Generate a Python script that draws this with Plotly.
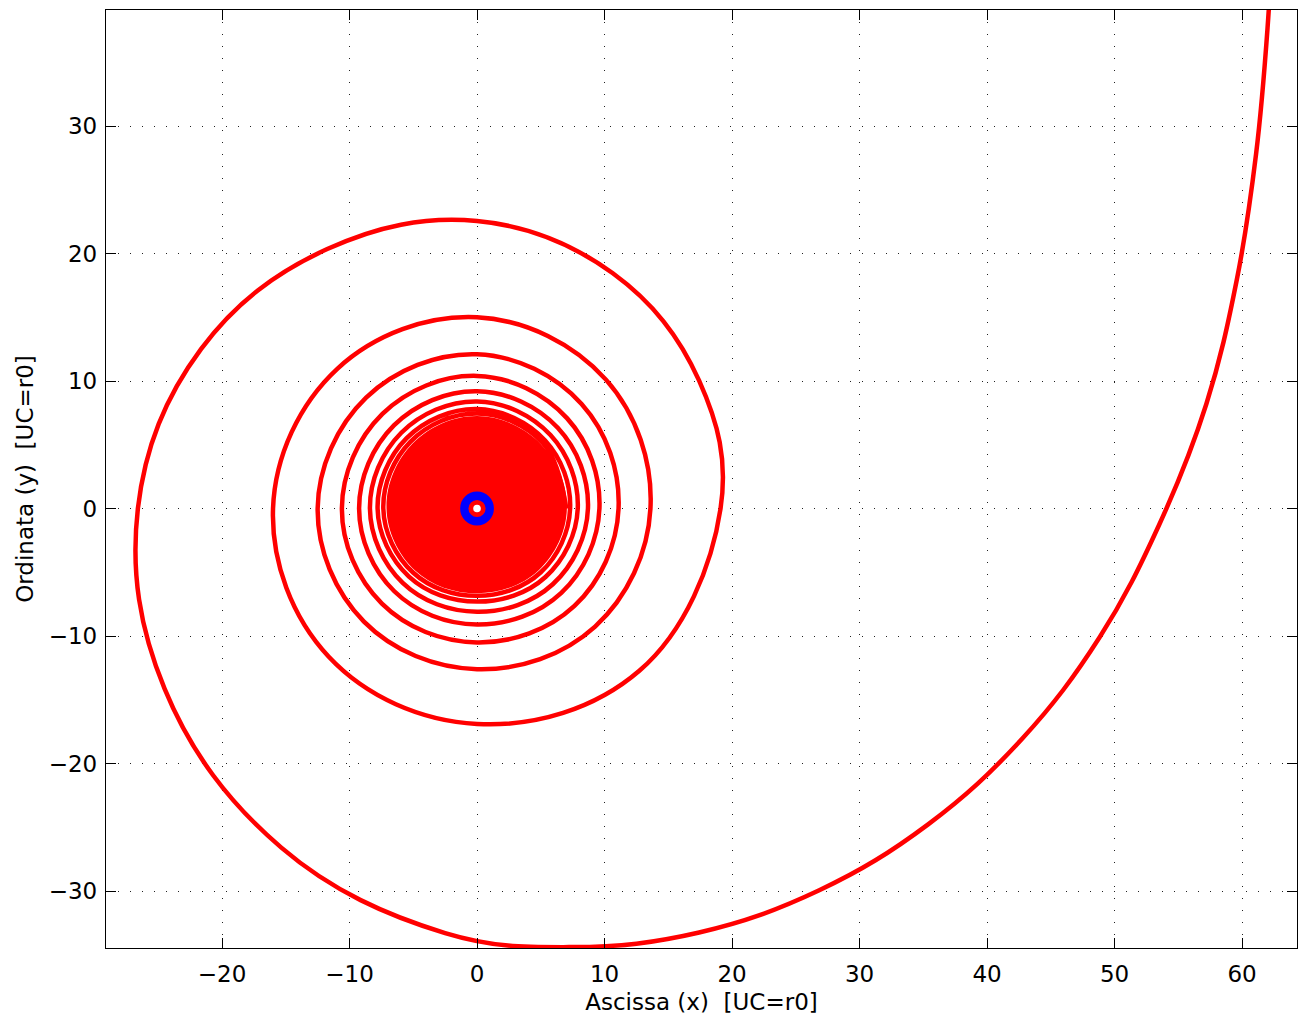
import plotly.graph_objects as go

# Spiral trajectory (counter-clockwise, from the inner core outwards)
traj_x = [7.0, 5.15, 0, -5.23, -7.35, -5.02, 0, 5.00, 7.3,
          5.34, 0, -5.52, -7.8, -5.34, 0, 5.37, 7.9,
          5.76, 0, -5.94, -8.4, -5.83, 0, 5.94, 8.7,
          6.33, 0, -6.52, -9.25, -6.49, 0, 6.61, 9.6,
          7.07, 0, -7.42, -10.6, -7.46, 0, 7.64, 11.1,
          8.20, 0, -8.70, -12.5, -8.87, 0, 9.26, 13.6,
          10.11, 0, -10.96, -16.0, -11.63, 0, 12.73, 19.1,
          17.41, 10.65, 0, -11.75, -21.65, -26.6, -24.5, -15.35, -2.5, 7.5,
          17.42, 26.84, 35.38, 42.77, 48.83, 53.5, 57.2, 59.6, 61.1, 62.0, 62.5]
traj_y = [0, 5.15, 7.45, 5.23, 0, -5.02, -6.85, -5.00, 0,
          5.34, 7.8, 5.52, 0, -5.34, -7.3, -5.37, 0,
          5.76, 8.4, 5.94, 0, -5.83, -8.1, -5.94, 0,
          6.33, 9.2, 6.52, 0, -6.49, -9.1, -6.61, 0,
          7.07, 10.4, 7.42, 0, -7.46, -10.5, -7.64, 0,
          8.20, 12.1, 8.70, 0, -8.87, -12.6, -9.26, 0,
          10.11, 15.0, 10.96, 0, -11.63, -16.9, -12.73, 0,
          10.05, 18.45, 22.55, 20.35, 12.5, 0, -14.15, -26.6, -33.3, -34.4,
          -33.25, -29.94, -24.77, -18.04, -10.1, -1.27, 8.2, 18.0, 27.8, 37.7, 47.0]

# Densely wound core of the spiral (outline of the filled region)
core_x = [7.05, 5.03, 0, -5.07, -7.1, -4.86, 0, 4.84, 7.05]
core_y = [0, 5.03, 7.25, 5.07, 0, -4.86, -6.65, -4.84, 0]

# Initial orbit (radius r0 = 1) and centre
r0 = 1.0
centre_x = [0]
centre_y = [0]

x_ticks = [-20, -10, 0, 10, 20, 30, 40, 50, 60]
y_ticks = [-30, -20, -10, 0, 10, 20, 30]
x_range = [-29.1, 64.31]
y_range = [-34.47, 39.1]

RED = "#ff0000"
BLUE = "#0000ff"
FONT = "DejaVu Sans"

fig = go.Figure()
fig.add_trace(go.Scatter(x=core_x, y=core_y, mode="lines", fill="toself",
                         fillcolor=RED, line=dict(color=RED, width=0, shape="spline", smoothing=1.1),
                         hoverinfo="skip"))
fig.add_trace(go.Scatter(x=traj_x, y=traj_y, mode="lines",
                         line=dict(color=RED, width=4.5, shape="spline", smoothing=1.1)))
fig.add_trace(go.Scatter(x=centre_x, y=centre_y, mode="markers",
                         marker=dict(color="white", size=7.6, line=dict(width=0))))
fig.add_shape(type="circle", xref="x", yref="y", x0=-r0, x1=r0, y0=-r0, y1=r0,
              line=dict(color=BLUE, width=8.3), layer="above")

axis_common = dict(showline=True, mirror="ticks", linecolor="black", linewidth=1.3,
                   ticks="inside", ticklen=10, tickcolor="black", tickwidth=1,
                   showgrid=True, gridcolor="#222222", gridwidth=1, griddash="1px,11px",
                   zeroline=False, tickfont=dict(family=FONT, size=23, color="black"))

fig.update_xaxes(range=x_range, tickvals=x_ticks, ticklabelstandoff=5, **axis_common,
                 title=dict(text="Ascissa (x) \u00a0[UC=r0]", font=dict(family=FONT, size=23, color="black"),
                            standoff=8))
fig.update_yaxes(range=y_range, tickvals=y_ticks, ticklabelstandoff=3, **axis_common,
                 title=dict(text="Ordinata (y) \u00a0[UC=r0]", font=dict(family=FONT, size=23, color="black"),
                            standoff=8))

fig.update_layout(width=1306, height=1026, showlegend=False,
                  margin=dict(l=106, r=9, t=10, b=78, pad=0),
                  paper_bgcolor="white", plot_bgcolor="white",
                  font=dict(family=FONT, size=23, color="black"))

fig.write_html("out.html")
